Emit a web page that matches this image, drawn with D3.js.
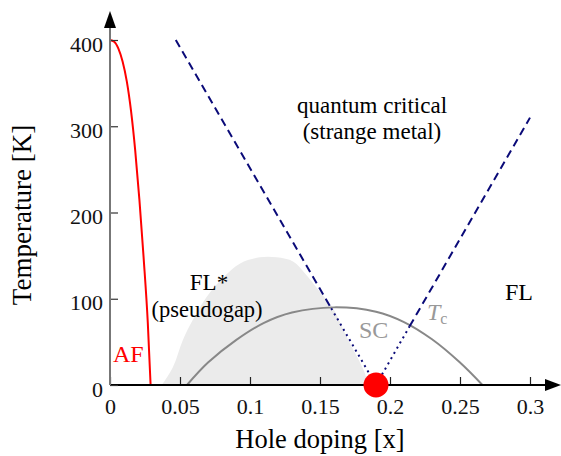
<!DOCTYPE html>
<meta charset="utf-8">
<style>
body { margin: 0; background: #fff; }
svg text { font-family: "Liberation Serif", "Times New Roman", Times, "DejaVu Serif", serif !important; }
</style>
<svg width="561" height="456"></svg>
<script src="https://d3js.org/d3.v7.min.js"></script>
<script>

// --- data (doping x, temperature K) ---
var afLine = [[0, 400], [0.003, 398], [0.006, 390], [0.009, 375], [0.012, 352], [0.015, 318],
  [0.018, 272], [0.021, 215], [0.024, 148], [0.027, 72], [0.029, 0]];
var pseudogap = [[0.037, 0], [0.045, 21], [0.052, 52], [0.059, 75], [0.069, 102], [0.081, 125],
  [0.093, 141], [0.107, 148], [0.119, 148], [0.131, 143], [0.139, 130], [0.149, 110],
  [0.159, 90], [0.169, 56], [0.182, 14], [0.184, 0]];
var scDome = [[0.055, 0], [0.07, 26], [0.09, 52], [0.11, 72], [0.13, 84], [0.16, 90],
  [0.19, 85], [0.21, 73], [0.23, 53], [0.25, 26], [0.266, 0]];
var qcLeftDashed = [[0.047, 400], [0.158, 89]];
var qcLeftDotted = [[0.158, 89], [0.19, 0]];
var qcRightDotted = [[0.19, 0], [0.214, 68]];
var qcRightDashed = [[0.214, 68], [0.3, 310]];
var qcp = [0.19, 0];
var xTicks = [0, 0.05, 0.1, 0.15, 0.2, 0.25, 0.3];
var yTicks = [0, 100, 200, 300, 400];

var serif = "'Liberation Serif', 'Times New Roman', Times, serif";
var svg = d3.select("svg");

var x = d3.scaleLinear().domain([0, 0.3]).range([110, 530]);
var y = d3.scaleLinear().domain([0, 400]).range([385, 40]);

var line = d3.line().x(function(d) { return x(d[0]); }).y(function(d) { return y(d[1]); });

// pseudogap region
svg.append("path")
    .attr("d", line.curve(d3.curveCatmullRom)(pseudogap) + "Z")
    .attr("fill", "#ebebeb");

// SC dome
svg.append("path")
    .attr("d", line.curve(d3.curveCatmullRom)(scDome))
    .attr("fill", "none")
    .attr("stroke", "#888")
    .attr("stroke-width", 2);

// quantum critical crossover lines
line.curve(d3.curveLinear);
[qcLeftDashed, qcRightDashed].forEach(function(seg) {
  svg.append("path").attr("d", line(seg))
      .attr("fill", "none").attr("stroke", "#0a0a78")
      .attr("stroke-width", 2).attr("stroke-dasharray", "8,5");
});
[qcLeftDotted, qcRightDotted].forEach(function(seg) {
  svg.append("path").attr("d", line(seg))
      .attr("fill", "none").attr("stroke", "#0a0a78")
      .attr("stroke-width", 2).attr("stroke-dasharray", "2,4");
});

// AF boundary
svg.append("path")
    .attr("d", line.curve(d3.curveMonotoneX)(afLine))
    .attr("fill", "none")
    .attr("stroke", "#f00")
    .attr("stroke-width", 2);

// axes
var xAxis = svg.append("g").attr("transform", "translate(0,385)");
xAxis.call(d3.axisBottom(x).tickValues(d3.range(0, 0.3001, 0.01)).tickSize(-5).tickFormat(""))
    .call(function(g) { g.select(".domain").remove(); });
xAxis.call(d3.axisBottom(x).tickValues(xTicks).tickSize(-8).tickPadding(13)
    .tickFormat(function(d) { return d === 0 ? "0" : String(+d.toFixed(2)); }))
    .call(function(g) { g.select(".domain").remove(); });
xAxis.attr("font-family", serif);
xAxis.selectAll("line").attr("stroke", "#222").attr("stroke-width", 1.2);
xAxis.selectAll("text").attr("fill", "#111").attr("font-size", 22).attr("font-family", serif);
xAxis.append("line").attr("x1", 110).attr("x2", 547).attr("stroke", "#000").attr("stroke-width", 2);
xAxis.append("path").attr("d", "M545,-6L561,0L545,6Z").attr("fill", "#000");

var yAxis = svg.append("g").attr("transform", "translate(110,0)");
yAxis.call(d3.axisLeft(y).tickValues(d3.range(0, 401, 20)).tickSize(-5).tickFormat(""))
    .call(function(g) { g.select(".domain").remove(); });
yAxis.call(d3.axisLeft(y).tickValues(yTicks).tickSize(-8).tickPadding(7))
    .call(function(g) { g.select(".domain").remove(); });
yAxis.attr("font-family", serif);
yAxis.selectAll("line").attr("stroke", "#333").attr("stroke-width", 1.2);
yAxis.selectAll("text").attr("fill", "#111").attr("font-size", 22).attr("dy", "0.5em")
    .attr("font-family", serif);
yAxis.append("line").attr("y1", 385).attr("y2", 26).attr("stroke", "#777").attr("stroke-width", 2);
yAxis.append("path").attr("d", "M-6,28L0,11L6,28Z").attr("fill", "#000");

// QCP marker
svg.append("circle")
    .attr("cx", x(qcp[0])).attr("cy", y(qcp[1]))
    .attr("r", 12.5).attr("fill", "#f00");

// axis titles
svg.append("text").attr("x", 320).attr("y", 448).attr("text-anchor", "middle")
    .attr("font-family", serif).attr("font-size", 26.5).text("Hole doping [x]");
svg.append("text").attr("transform", "translate(31,215) rotate(-90)").attr("text-anchor", "middle")
    .attr("font-family", serif).attr("font-size", 27).text("Temperature [K]");

// region labels
function label(t, px, py, size, color, anchor) {
  return svg.append("text").attr("x", px).attr("y", py).attr("font-size", size)
      .attr("font-family", serif)
      .attr("fill", color).attr("text-anchor", anchor || "middle").text(t);
}
label("quantum critical", 372, 113, 23, "#000");
label("(strange metal)", 372, 139, 23, "#000");
label("FL*", 209, 290, 23, "#000");
label("(pseudogap)", 207, 317, 22.5, "#000");
label("AF", 113, 362, 24, "#f00", "start");
label("SC", 359, 338, 24, "#999", "start");
label("FL", 505, 300, 24, "#000", "start");
var tc = label("", 427, 320, 24, "#999", "start");
tc.append("tspan").attr("font-style", "italic").text("T");
tc.append("tspan").attr("font-size", 16).attr("dy", 4).text("c");

</script>
